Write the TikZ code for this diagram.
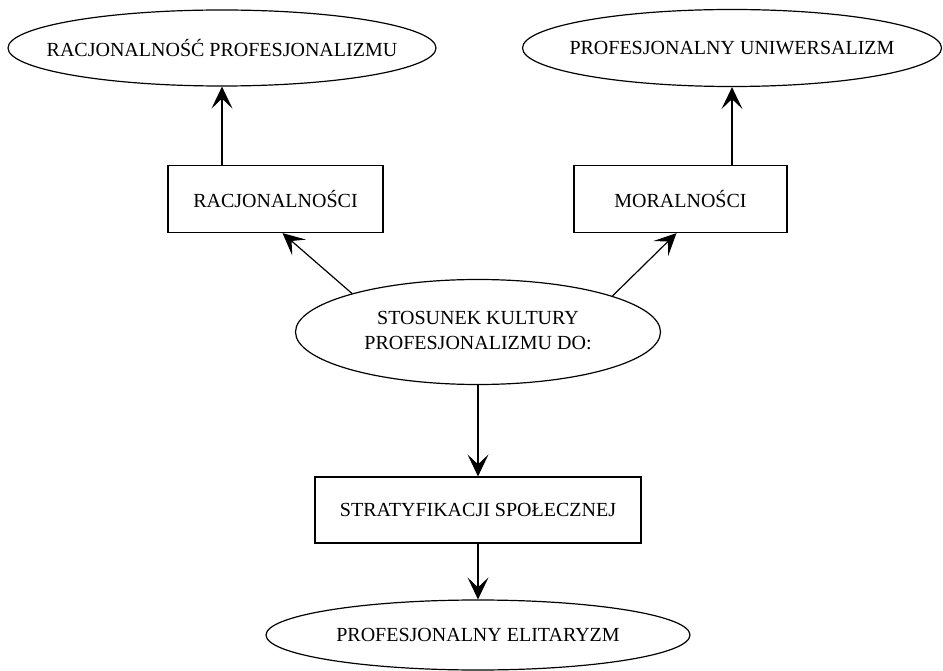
\documentclass[tikz,border=0pt]{standalone}
\usepackage{fontspec}
\setmainfont{Liberation Serif}
\usepackage{tikz}
\usetikzlibrary{positioning,shapes.geometric,arrows.meta}

\newcommand{\etiq}[1]{\makebox[0pt]{#1}}

\begin{document}
\begin{tikzpicture}[x=1pt,y=-1pt,line width=1.2pt,
   >={Stealth[length=22pt,width=21pt,inset=10pt]},
   node distance=10pt,on grid,
   font=\fontsize{20}{25}\selectfont,
   pojecie/.style={ellipse,draw,inner sep=0pt},
   relacja/.style={rectangle,draw,inner sep=0pt,minimum height=67pt}]

  \useasboundingbox (0,0) rectangle (943,671);

  \node[pojecie,minimum width=365pt,minimum height=105pt] (st) at (478,332)
     {\etiq{\begin{tabular}{@{}c@{}}STOSUNEK KULTURY\\PROFESJONALIZMU DO:\end{tabular}}};
  \node[relacja,minimum width=215pt] (rac) [above left=133pt and 202.5pt of st] {RACJONALNOŚCI};
  \node[relacja,minimum width=213pt] (mor) [above right=133pt and 202.5pt of st] {MORALNOŚCI};
  \node[pojecie,minimum width=428pt,minimum height=76pt] (rpe) [above left=151pt and 53.5pt of rac]
     {\etiq{RACJONALNOŚĆ PROFESJONALIZMU}};
  \node[pojecie,minimum width=419pt,minimum height=77pt] (pun) [above right=151pt and 51.5pt of mor]
     {\etiq{PROFESJONALNY UNIWERSALIZM}};
  \node[relacja,minimum width=326pt,minimum height=66pt] (str) [below=178pt of st] {STRATYFIKACJI SPOŁECZNEJ};
  \node[pojecie,minimum width=424pt,minimum height=70pt] (pel) [below=125pt of str]
     {\etiq{PROFESJONALNY ELITARYZM}};

  \draw[->] (rpe.south |- rac.north) -- (rpe.south);
  \draw[->] (pun.south |- mor.north) -- (pun.south);
  \draw[->] (st.163) -- ([xshift=7pt]rac.south);
  \draw[->] (st.15) -- ([xshift=-4pt]mor.south);
  \foreach \from/\to in {st/str,str/pel} \draw[->] (\from) -- (\to);
\end{tikzpicture}
\end{document}
